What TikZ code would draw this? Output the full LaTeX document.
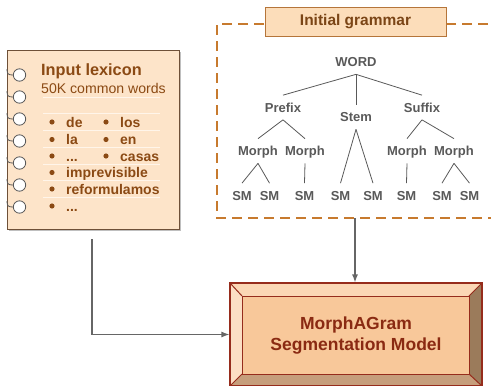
\documentclass[tikz,border=0pt]{standalone}
\usepackage{fontspec}
\setmainfont{Liberation Sans}
\usetikzlibrary{arrows.meta}
\definecolor{nbfill}{HTML}{FDE4C9}
\definecolor{nbedge}{HTML}{6E5038}
\definecolor{nbtext}{HTML}{8B4A14}
\definecolor{ruled}{HTML}{FFF5EA}
\definecolor{dashc}{HTML}{C77A2E}
\definecolor{igfill}{HTML}{FCDDBA}
\definecolor{igedge}{HTML}{B5753A}
\definecolor{igtext}{HTML}{7B4516}
\definecolor{treegray}{HTML}{595959}
\definecolor{arrgray}{HTML}{666666}
\definecolor{segedge}{HTML}{962C1C}
\definecolor{segtop}{HTML}{FBD7B5}
\definecolor{segleft}{HTML}{FCDFC4}
\definecolor{segright}{HTML}{9B7B5B}
\definecolor{segbot}{HTML}{C69E7C}
\definecolor{segface}{HTML}{F8C89A}
\definecolor{segtext}{HTML}{8A2A12}
\begin{document}
\begin{tikzpicture}[x=1pt,y=-1pt,
  tn/.style={font=\fontsize{13}{13}\selectfont\bfseries, text=treegray, text height=9.3pt, text depth=0pt, inner xsep=1pt, inner ysep=7.5pt},
  tline/.style={draw=treegray, line width=0.8pt},
  nbt/.style={anchor=west, inner sep=0pt, text=nbtext},
  wordt/.style={nbt, font=\fontsize{14}{14}\selectfont\bfseries, text height=10pt, text depth=0pt},
  conn/.style={draw=arrgray, line width=1.2pt, -{Latex[length=8pt,width=6pt]}},
  ring/.style={draw=black!65, fill=white, line width=0.8pt}
]
\useasboundingbox (0,0) rectangle (491,386);
\clip (0,0) rectangle (491,386);

% ---------- Notebook (input lexicon)
\fill[black!25] (9,52) rectangle (181,231);
\node[draw=nbedge, fill=nbfill, line width=0.8pt, minimum width=172pt, minimum height=179pt, inner sep=0pt] (lex) at (93,139.5) {};
\foreach \yy in {97,113.5,130,147,164,180,197}
  \draw[ruled, line width=1pt] (43,\yy) -- (160,\yy);
\foreach \yy in {75,97,119,141,163,185,207}{
  \draw[black!65, line width=0.8pt] (7,\yy-6) .. controls (7,\yy-1) and (8,\yy) .. (13,\yy);
  \draw[ring] (19.5,\yy) circle (6.2pt);
}
\node[nbt, font=\fontsize{16.3}{16}\selectfont\bfseries, text height=11.7pt, text depth=0pt] (title) at (41,69.5) {Input lexicon};
\node[nbt, font=\fontsize{14.1}{14}\selectfont, text height=10.1pt, text depth=0pt] (sub) at (41,88) {50K common words};
\foreach \yy in {122,139.5,156,172.5,189,206}
  \fill[nbtext] (52,\yy) circle (2.6pt);
\foreach \yy in {122,139.5,156}
  \fill[nbtext] (106,\yy) circle (2.6pt);
\node[wordt] (w1) at (66,122) {de};
\node[wordt] (w2) at (66,139.5) {la};
\node[wordt] (w3) at (66,156) {...};
\node[wordt] (w4) at (120,122) {los};
\node[wordt] (w5) at (120,139.5) {en};
\node[wordt] (w6) at (120,156) {casas};
\node[wordt] (w7) at (66,172.5) {imprevisible};
\node[wordt] (w8) at (66,189) {reformulamos};
\node[wordt] (w9) at (66,206) {...};

% ---------- Initial grammar (dashed frame)
\draw[dashc, line width=1.4pt, dash pattern=on 10pt off 6pt] (520,24) -- (217,24) -- (217,218) -- (520,218);
\node[draw=igedge, fill=igfill, line width=0.8pt, minimum width=181pt, minimum height=29pt, inner sep=0pt,
      font=\fontsize{15.5}{15.5}\selectfont\bfseries, text=igtext] (ig) at (355.5,21.5) {Initial grammar};
\coordinate (gramout) at (355,218);

% tree
\node[tn] (word) at (356,62) {WORD};
\node[tn] (prefix) at (283,107.5) {Prefix};
\node[tn] (stem) at (356,117) {Stem};
\node[tn] (suffix) at (422,107.5) {Suffix};
\node[tn] (m1) at (258,151) {Morph};
\node[tn] (m2) at (305,151) {Morph};
\node[tn] (m3) at (407,151) {Morph};
\node[tn] (m4) at (454,151) {Morph};
\node[tn] (s1) at (242,195.5) {SM};
\node[tn] (s2) at (269.5,195.5) {SM};
\node[tn] (s3) at (304.5,195.5) {SM};
\node[tn] (s4) at (340.5,195.5) {SM};
\node[tn] (s5) at (373,195.5) {SM};
\node[tn] (s6) at (406.5,195.5) {SM};
\node[tn] (s7) at (442,195.5) {SM};
\node[tn] (s8) at (469.5,195.5) {SM};
\draw[tline] (word.south) -- (prefix.north);
\draw[tline] (word.south) -- (stem.north);
\draw[tline] (word.south) -- (suffix.north);
\draw[tline] (prefix.south) -- (m1.north);
\draw[tline] (prefix.south) -- (m2.north);
\draw[tline] (suffix.south) -- (m3.north);
\draw[tline] (suffix.south) -- (m4.north);
\draw[tline] (m1.south) -- (s1.north);
\draw[tline] (m1.south) -- (s2.north);
\draw[tline] (m2.south) -- (s3.north);
\draw[tline] (stem.south) -- (s4.north);
\draw[tline] (stem.south) -- (s5.north);
\draw[tline] (m3.south) -- (s6.north);
\draw[tline] (m4.south) -- (s7.north);
\draw[tline] (m4.south) -- (s8.north);

% ---------- Segmentation model (bevelled box)
\fill[segtop] (230,283) -- (482,283) -- (469,296) -- (242,296) -- cycle;
\fill[segleft] (230,283) -- (242,296) -- (242,374) -- (230,386) -- cycle;
\fill[segright] (482,283) -- (482,386) -- (469,374) -- (469,296) -- cycle;
\fill[segbot] (230,386) -- (242,374) -- (469,374) -- (482,386) -- cycle;
\node[draw=segedge, fill=segface, line width=1pt, minimum width=227pt, minimum height=78pt, inner sep=0pt] (face) at (355.5,335) {};
\draw[segedge, line width=1pt] (230,283) -- (242,296) (482,283) -- (469,296) (230,386) -- (242,374) (482,386) -- (469,374);
\node[draw=segedge, line width=1.2pt, minimum width=252pt, minimum height=103pt, inner sep=0pt] (seg) at (356,334.5) {};
\node[font=\fontsize{17.5}{20.5}\selectfont\bfseries, text=segtext, align=center, inner sep=0pt] (segtxt) at (356,335.5) {MorphAGram\\Segmentation Model};

% ---------- connectors
\coordinate (lexout) at (92,239);
\draw[conn] (lexout) |- (seg.west);
\draw[conn] (gramout) -- (gramout |- seg.north);
\end{tikzpicture}
\end{document}
